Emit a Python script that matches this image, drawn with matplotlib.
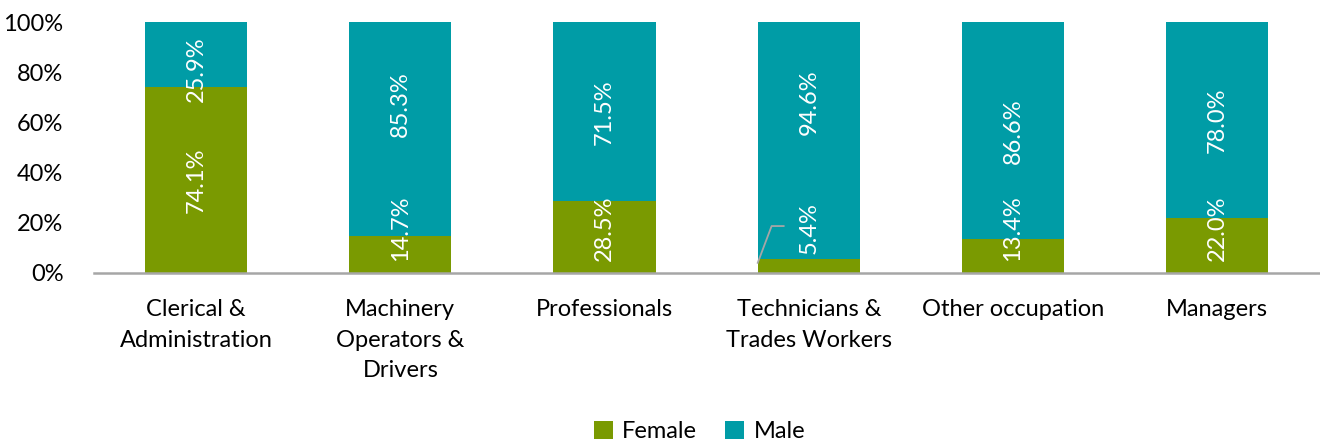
import matplotlib
matplotlib.use("Agg")
import matplotlib.pyplot as plt
import numpy as np

# data
categories = ["Clerical &\nAdministration", "Machinery\nOperators &\nDrivers", "Professionals",
              "Technicians &\nTrades Workers", "Other occupation", "Managers"]
female = [74.1, 14.7, 28.5, 5.4, 13.4, 22.0]
male = [25.9, 85.3, 71.5, 94.6, 86.6, 78.0]

FEMALE_COL = "#7a9a01"
MALE_COL = "#009ca6"
FS = 17

plt.rcParams['font.family'] = ['Lato', 'DejaVu Sans']

fig = plt.figure(figsize=(13.2, 4.41), dpi=100)
ax = fig.add_axes([0.0712, 0.381, 0.9283, 0.569])

x = np.arange(len(categories))
w = 0.5
ax.bar(x, female, w, color=FEMALE_COL, label="Female")
ax.bar(x, male, w, bottom=female, color=MALE_COL, label="Male")

# label placement (some were nudged by hand in the original)
male_nudge = {0: -6.0, 1: 10.0, 3: 15.5}
for i in range(len(x)):
    fy = max(female[i] / 2, 18)
    ax.text(x[i], fy, "%.1f%%" % female[i], rotation=90, ha="center", va="center",
            color="white", fontsize=FS)
    my = female[i] + male[i] / 2 + male_nudge.get(i, 0)
    ax.text(x[i], my, "%.1f%%" % male[i], rotation=90, ha="center", va="center",
            color="white", fontsize=FS)

# leader line for the small Technicians label
t = 3
ax.plot([x[t] - w / 2, x[t] - w / 2 + 0.068, x[t] - w / 2 + 0.127],
        [female[t] * 0.75, 18.7, 18.7], color="#a6a6a6", lw=1.3, zorder=3)

ax.set_xlim(-0.5, len(categories) - 0.5)
ax.set_ylim(0, 100)
ax.set_yticks(np.arange(0, 101, 20))
ax.set_yticklabels(["%d%%" % v for v in range(0, 101, 20)], fontsize=FS)
ax.set_xticks(x)
ax.set_xticklabels(categories, fontsize=FS, linespacing=1.55)
ax.tick_params(axis="both", length=0, colors="black")
ax.tick_params(axis="x", pad=19)
ax.tick_params(axis="y", pad=22)

for s in ["top", "right", "left"]:
    ax.spines[s].set_visible(False)
ax.spines["bottom"].set_color("#a6a6a6")
ax.spines["bottom"].set_linewidth(1.8)

leg = fig.legend(loc="lower center", bbox_to_anchor=(0.53, -0.05), ncol=2, frameon=False,
                 fontsize=FS, handlelength=0.8, handleheight=0.8, handletextpad=0.4,
                 columnspacing=1.2)

fig.savefig("out.png", dpi=100)
